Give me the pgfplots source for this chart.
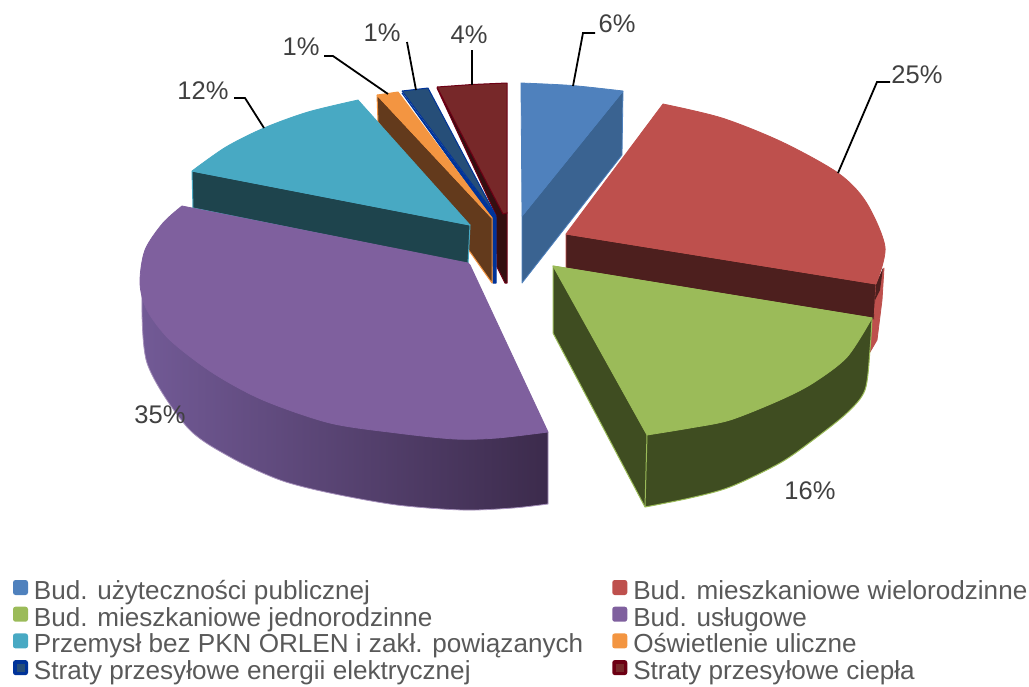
\documentclass[border=0pt]{standalone}
\usepackage{fontspec}
\setmainfont{Liberation Sans}
\usepackage{pgfplots}
\pgfplotsset{compat=1.18}
\definecolor{cblue}{HTML}{4F81BD}\definecolor{cblueS}{HTML}{3A6391}
\definecolor{cred}{HTML}{BE504D}\definecolor{credS}{HTML}{4D1F1E}
\definecolor{cgreen}{HTML}{9BBB59}\definecolor{cgreenS}{HTML}{3F4D21}
\definecolor{cpur}{HTML}{7F609E}
\definecolor{cpurL}{HTML}{725A96}\definecolor{cpurM}{HTML}{5E4A78}\definecolor{cpurR}{HTML}{3C2B4C}
\definecolor{cteal}{HTML}{48A9C3}\definecolor{ctealS}{HTML}{1E444D}
\definecolor{corg}{HTML}{F39541}\definecolor{corgS}{HTML}{633A1C}
\definecolor{cnavy}{HTML}{264E78}\definecolor{cnavyE}{HTML}{003399}
\definecolor{cmar}{HTML}{772829}\definecolor{cmarE}{HTML}{6D0014}\definecolor{cmarS}{HTML}{340F10}
\definecolor{lab}{HTML}{404040}\definecolor{leg}{HTML}{595959}
\newcommand{\key}[2]{\addlegendimage{legend image code/.code={\path[draw=none,fill=none] (0pt,0pt) rectangle (24pt,1pt);\fill[#1,draw=none,rounded corners=2.5pt] (3pt,-2pt) rectangle (18pt,13pt);\fill[#2,draw=none] (6.5pt,1.5pt) rectangle (14.5pt,9.5pt);}}}
\begin{document}
\begin{tikzpicture}
\begin{axis}[
  scale only axis, width=1029pt, height=686pt,
  xmin=0, xmax=1029, ymin=0, ymax=686, y dir=reverse,
  hide axis, clip=false,
  legend columns=2,
  legend style={at={(axis cs:10,580)}, anchor=north west, draw=none, fill=none,
    inner sep=0pt, outer sep=0pt, row sep=1.2pt, /tikz/column 2/.style={column sep=26pt},
    font=\fontsize{26.1}{30}\selectfont, text=leg,
    nodes={inner sep=0pt, outer sep=0pt, text height=19pt, text depth=6pt},
    cells={anchor=west}},
  legend cell align=left,
]
\path (axis cs:0,0) rectangle (axis cs:1029,686);
% Straty ciepła
\addplot[fill=cmarS, draw=cmarE, line width=1pt, line join=round, forget plot] coordinates {(437,88)(496,215)(497,267)(505,283)(507,283)(507,213)(437,88)};
\addplot[fill=cmar, draw=cmarE, line width=1pt, line join=round, forget plot] coordinates {(437,87)(472,84.5)(507,83)(507,213)(503,214)(437,87)};
% Straty energii
\addplot[fill=cnavyE, draw=cnavyE, line width=1pt, line join=round, forget plot] coordinates {(402,93)(492,218)(493,283)(496,283)(496,217)(402,93)};
\addplot[fill=cnavy, draw=cnavyE, line width=1pt, line join=round, forget plot] coordinates {(402,91)(415,89.5)(428,88)(496,216)(402,91)};
% Oświetlenie
\addplot[fill=corgS, draw=corg, line width=1pt, line join=round, forget plot] coordinates {(377,95)(378,122)(492,283)(492,218)(377,95)};
\addplot[fill=corg, draw=corg, line width=1pt, line join=round, forget plot] coordinates {(377,95)(388,93.5)(398,92)(492,218)(377,95)};
% Przemysł
\addplot[fill=ctealS, draw=cteal, line width=1pt, line join=round, forget plot] coordinates {(192,171)(193,208)(468,264)(470,225)(192,171)};
\addplot[smooth, fill=cteal, draw=cteal, line width=0.8pt, line join=round, forget plot] coordinates {(358,100)(308,112)(264,128)(226,147)(192,171)} -- (axis cs:470,225) -- cycle;
% Bud. użyteczności
\addplot[fill=cblueS, draw=cblue, line width=0.8pt, line join=round, forget plot] coordinates {(623,91)(622,155)(522,283)(522,216)(623,91)};
\addplot[smooth, fill=cblue, draw=cblue, line width=0.8pt, line join=round, forget plot] coordinates {(521,83)(572,85.5)(623,91)} -- (axis cs:522,216) -- cycle;
% Bud. wielorodzinne
\addplot[fill=cred, draw=cred, line width=0.8pt, line join=round, forget plot] coordinates {(876,284)(884,268)(882,300)(877,340)(870,352)(870,318)(876,284)};
\addplot[fill=credS, draw=cred, line width=0.8pt, line join=round, forget plot] coordinates {(566,234)(876,284)(874,320)(566,270)(566,234)};
\addplot[fill=credS, draw=none, forget plot] coordinates {(876,284)(883,268)(880,290)(875,300)(876,284)};
\addplot[smooth, fill=cred, draw=cred, line width=0.8pt, line join=round, forget plot] coordinates {(663,104)(722,118)(782,142)(838,173)(866,202)(885,247)(876,284)} -- (axis cs:566,234) -- cycle;
% Bud. usługowe: side
\addplot[smooth, shade, left color=cpurL, middle color=cpurM, right color=cpurR, draw=none, forget plot] coordinates {(142,290)(147,363)(187,427)(230,457)(280,480)(330,493)(397,505)(463,510)(513,508)(548,504)} -- (axis cs:548,432) -- cycle;
\addplot[smooth, draw=cpur!70!white, line width=0.8pt, forget plot] coordinates {(142,290)(147,363)(187,427)(230,457)(280,480)(330,493)(397,505)(463,510)(513,508)(548,504)} -- (axis cs:548,432);
% face
\addplot[smooth, fill=cpur, draw=cpur, line width=0.8pt, line join=round, forget plot] coordinates {(548,432)(497,438)(455,439)(397,433)(330,423)(263,400)(213,373)(170,340)(147,310)(140,283)(145,250)(163,223)(182,206)} -- (axis cs:468,263) -- (axis cs:470,265) -- cycle;
% Bud. jednorodzinne
\addplot[smooth, fill=cgreenS, draw=cgreen, line width=1pt, line join=round, forget plot] coordinates {(645,507)(690,498)(730,487)(780,463)(813,440)(847,413)(865,390)(870,350)(872,318)} -- (axis cs:553,266) -- (axis cs:553,333) -- cycle;
\addplot[smooth, fill=cgreen, draw=cgreen, line width=0.8pt, line join=round, forget plot] coordinates {(872,318)(847,357)(813,383)(780,400)(730,420)(690,428)(647,435)} -- (axis cs:553,266) -- cycle;
\addplot[draw=cgreen, line width=1pt, forget plot] coordinates {(647,435)(645,507)};
% leader lines
\addplot[black, line width=1.8pt, forget plot] coordinates {(573,86)(583,33)(595,33)};
\addplot[black, line width=1.8pt, forget plot] coordinates {(838,173)(877,82)(890,82)};
\addplot[black, line width=1.8pt, forget plot] coordinates {(472,85)(472,50)};
\addplot[black, line width=1.8pt, forget plot] coordinates {(416,90)(407,42)};
\addplot[black, line width=1.8pt, forget plot] coordinates {(388,94)(333,56)(324,56)};
\addplot[black, line width=1.8pt, forget plot] coordinates {(264,128)(245,98)(234,98)};
% legend
\key{cblue}{cblue}\addlegendentry{Bud. użyteczności publicznej}
\key{cred}{cred}\addlegendentry{Bud. mieszkaniowe wielorodzinne}
\key{cgreen}{cgreen}\addlegendentry{Bud. mieszkaniowe jednorodzinne}
\key{cpur}{cpur}\addlegendentry{Bud. usługowe}
\key{cteal}{cteal}\addlegendentry{Przemysł bez PKN ORLEN i zakł. powiązanych}
\key{corg}{corg}\addlegendentry{Oświetlenie uliczne}
\key{cnavyE}{cnavy}\addlegendentry{Straty przesyłowe energii elektrycznej}
\key{cmarE}{cmar}\addlegendentry{Straty przesyłowe ciepła}
% labels
\begin{scope}[every node/.style={text=lab, font=\fontsize{25.5}{30}\selectfont, inner sep=0pt}]
\node at (axis cs:617,24) {6\%};
\node at (axis cs:917,75) {25\%};
\node at (axis cs:469,35) {4\%};
\node at (axis cs:382,33) {1\%};
\node at (axis cs:301,47) {1\%};
\node at (axis cs:203,91) {12\%};
\node at (axis cs:160,415) {35\%};
\node at (axis cs:810,491) {16\%};
\end{scope}
\end{axis}
\end{tikzpicture}
\end{document}
